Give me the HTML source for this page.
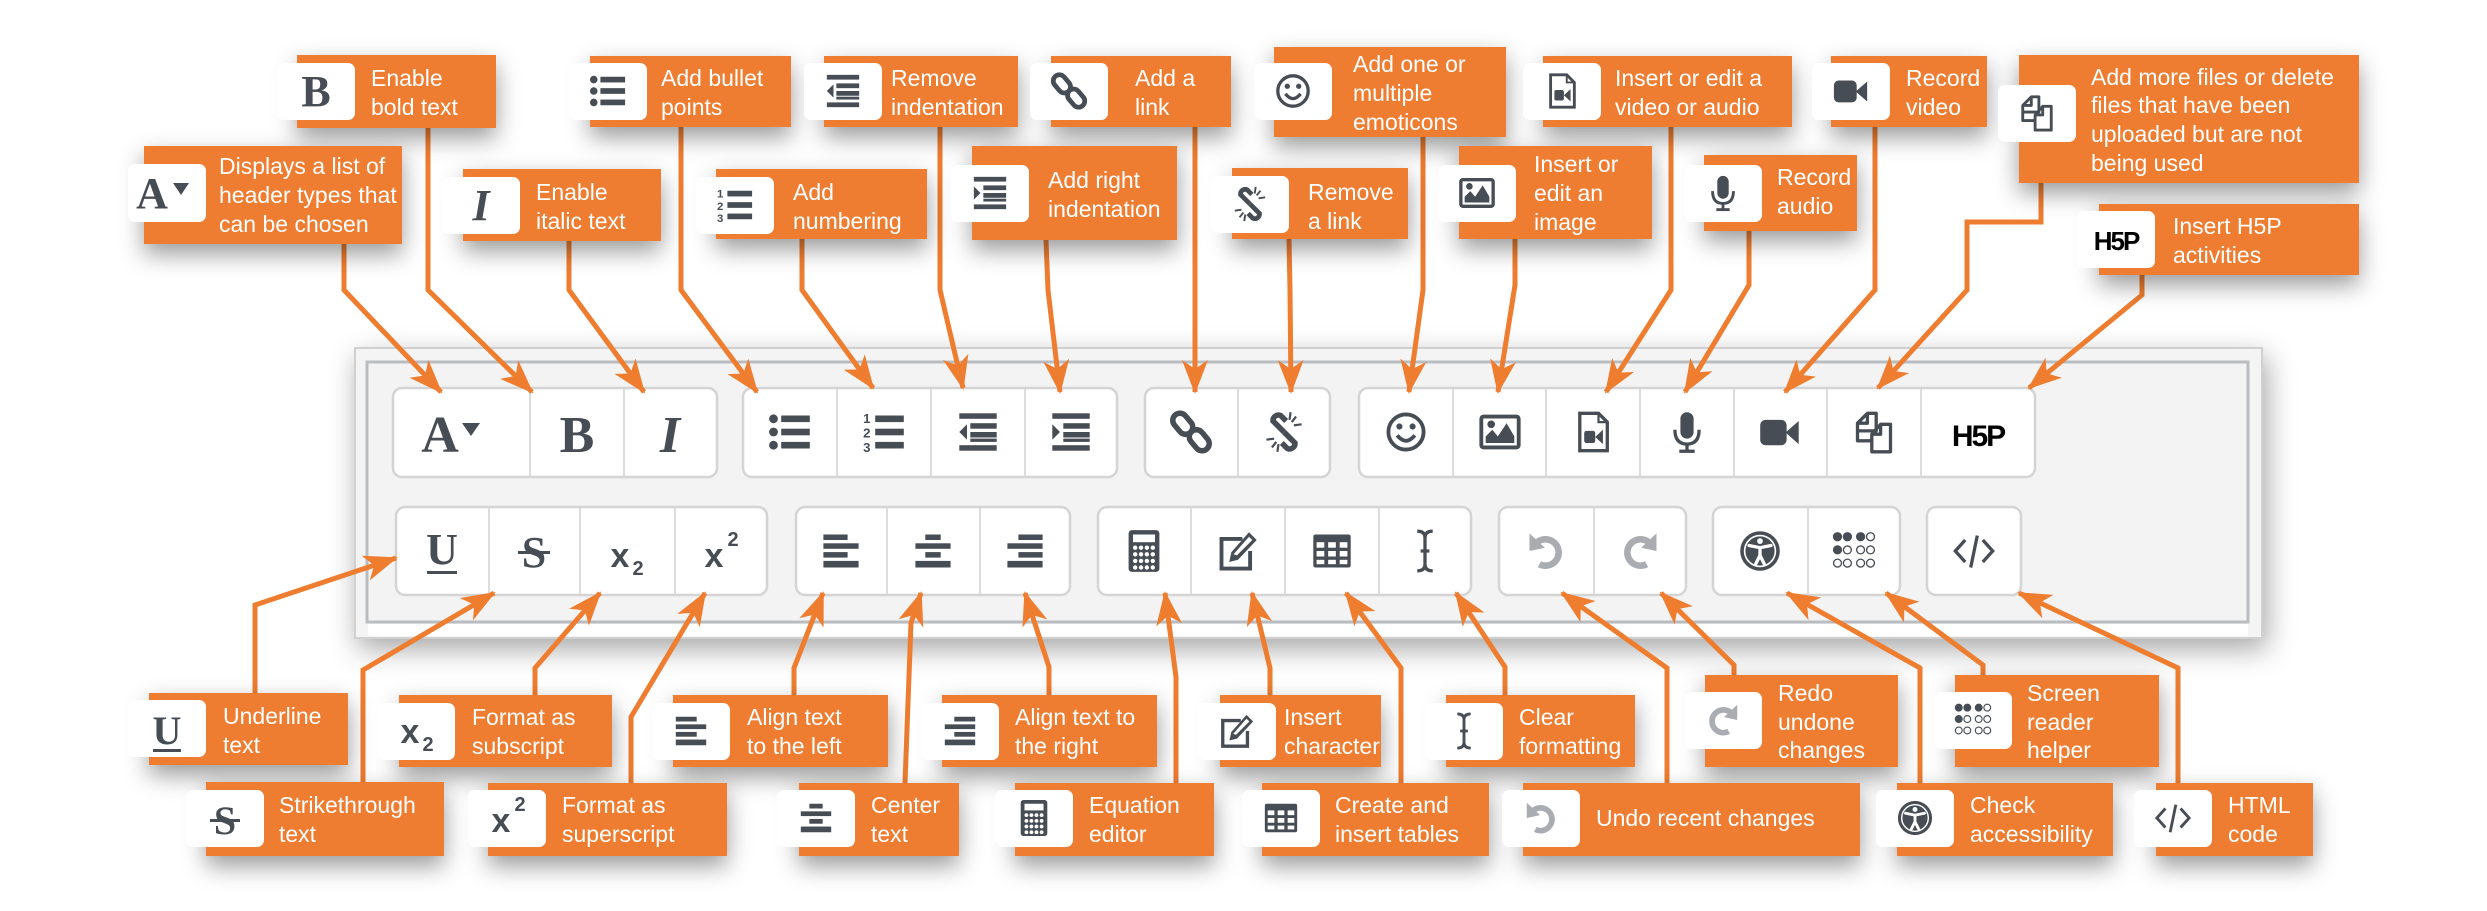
<!DOCTYPE html>
<html><head><meta charset="utf-8"><style>
html,body{margin:0;padding:0;background:#fff;}
svg{display:block;}
.t{font-family:"Liberation Sans",sans-serif;font-size:23px;fill:#fff;}
.ser{font-family:"Liberation Serif",serif;font-weight:bold;fill:#474d55;}
.sans{font-family:"Liberation Sans",sans-serif;font-weight:bold;fill:#474d55;}
.ln{fill:none;stroke:#EE7D30;stroke-width:5;marker-end:url(#ah);stroke-linejoin:miter;}
</style></head><body>
<svg width="2487" height="911" viewBox="0 0 2487 911" xmlns="http://www.w3.org/2000/svg">
<defs>
<filter id="sh" x="-30%" y="-30%" width="160%" height="180%"><feDropShadow dx="0" dy="10" stdDeviation="12" flood-color="#000" flood-opacity="0.4"/></filter>
<filter id="sh2" x="-10%" y="-10%" width="120%" height="130%"><feDropShadow dx="4" dy="10" stdDeviation="14" flood-color="#000" flood-opacity="0.35"/></filter>
<marker id="ah" markerUnits="userSpaceOnUse" markerWidth="34" markerHeight="26" refX="32" refY="13" orient="auto"><path d="M0,0 L34,13 L0,26 L9,13 Z" fill="#EE7D30"/></marker>
<symbol id="list" viewBox="0 0 40 40"><g fill="#474d55"><circle cx="5" cy="8" r="4"/><circle cx="5" cy="20" r="4"/><circle cx="5" cy="32" r="4"/><rect x="12" y="5" width="26" height="6"/><rect x="12" y="17" width="26" height="6"/><rect x="12" y="29" width="26" height="6"/></g></symbol>
<symbol id="num" viewBox="0 0 40 40"><g fill="#474d55"><text x="1" y="12" font-family="Liberation Sans" font-weight="bold" font-size="12">1</text><text x="1" y="25" font-family="Liberation Sans" font-weight="bold" font-size="12">2</text><text x="1" y="38" font-family="Liberation Sans" font-weight="bold" font-size="12">3</text><rect x="12" y="5" width="26" height="6"/><rect x="12" y="17" width="26" height="6"/><rect x="12" y="29" width="26" height="6"/></g></symbol>
<symbol id="outd" viewBox="0 0 40 40"><g fill="#474d55"><rect x="3" y="3" width="34" height="5"/><rect x="13" y="12" width="24" height="5"/><rect x="13" y="20" width="24" height="5"/><rect x="3" y="32" width="34" height="5"/><polygon points="3,20 10,13 10,27"/><rect x="13" y="26" width="24" height="3"/></g></symbol>
<symbol id="ind" viewBox="0 0 40 40"><g fill="#474d55"><rect x="3" y="3" width="34" height="5"/><rect x="13" y="12" width="24" height="5"/><rect x="13" y="20" width="24" height="5"/><rect x="3" y="32" width="34" height="5"/><polygon points="10,20 3,13 3,27"/><rect x="13" y="26" width="24" height="3"/></g></symbol>
<symbol id="link" viewBox="0 0 40 40"><g fill="none" stroke="#474d55" stroke-width="5"><rect x="6" y="2" width="13" height="21" rx="6.5" transform="rotate(-40 12.5 12.5)"/><rect x="21" y="17" width="13" height="21" rx="6.5" transform="rotate(-40 27.5 27.5)"/></g></symbol>
<symbol id="unlink" viewBox="0 0 40 40"><g fill="none" stroke="#474d55" stroke-width="5"><path d="M20,20 L10,10 A5,5 0 0 1 17,5 L22,10"/><path d="M20,20 L30,30 A5,5 0 0 1 23,35 L18,30"/></g><g stroke="#474d55" stroke-width="2"><line x1="26" y1="2" x2="25" y2="9"/><line x1="31" y1="6" x2="27" y2="11"/><line x1="36" y1="13" x2="29" y2="14"/><line x1="14" y1="38" x2="15" y2="31"/><line x1="9" y1="34" x2="13" y2="29"/><line x1="4" y1="27" x2="11" y2="26"/></g></symbol>
<symbol id="smile" viewBox="0 0 40 40"><circle cx="20" cy="20" r="16" fill="none" stroke="#474d55" stroke-width="3.5"/><circle cx="14" cy="15" r="2.8" fill="#474d55"/><circle cx="26" cy="15" r="2.8" fill="#474d55"/><path d="M12,23 Q20,33 28,23" fill="none" stroke="#474d55" stroke-width="3.5"/></symbol>
<symbol id="img" viewBox="0 0 40 40"><rect x="3" y="6" width="34" height="28" fill="none" stroke="#474d55" stroke-width="3.5" rx="2"/><polygon points="7,30 7,24 13,18 18,24 26,12 33,24 33,30" fill="#474d55"/><circle cx="12" cy="13" r="3.5" fill="#474d55"/></symbol>
<symbol id="vfile" viewBox="0 0 40 40"><path d="M8,3 H25 L33,11 V37 H8 Z" fill="none" stroke="#474d55" stroke-width="3"/><path d="M25,3 V11 H33" fill="none" stroke="#474d55" stroke-width="2"/><rect x="12" y="19" width="10" height="11" rx="2" fill="#474d55"/><polygon points="22,24.5 29,18 29,31" fill="#474d55"/></symbol>
<symbol id="mic" viewBox="0 0 40 40"><rect x="14" y="2" width="12" height="24" rx="6" fill="#474d55"/><path d="M9,18 Q9,31 20,31 Q31,31 31,18" fill="none" stroke="#474d55" stroke-width="3"/><line x1="20" y1="31" x2="20" y2="37" stroke="#474d55" stroke-width="3"/><line x1="13" y1="37.5" x2="27" y2="37.5" stroke="#474d55" stroke-width="3"/></symbol>
<symbol id="cam" viewBox="0 0 40 40"><rect x="2" y="9" width="24" height="23" rx="5" fill="#474d55"/><polygon points="25,20.5 37,10 37,31" fill="#474d55"/></symbol>
<symbol id="files" viewBox="0 0 40 40"><g fill="none" stroke="#474d55" stroke-width="3" stroke-linejoin="round"><path d="M14,3 H22 V19 H5 V12 Z M5,12 H14 V3"/><path d="M5,19 V28 H17"/><path d="M26,13 H35 V38 H18 V22 Z M18,22 H26 V13"/></g></symbol>
<symbol id="al" viewBox="0 0 40 40"><g fill="#474d55"><rect x="4" y="5" width="22" height="5"/><rect x="4" y="13" width="32" height="5"/><rect x="4" y="21" width="22" height="5"/><rect x="4" y="29" width="32" height="6"/></g></symbol>
<symbol id="ac" viewBox="0 0 40 40"><g fill="#474d55"><rect x="13" y="5" width="14" height="5"/><rect x="4" y="13" width="32" height="5"/><rect x="13" y="21" width="14" height="5"/><rect x="4" y="29" width="32" height="6"/></g></symbol>
<symbol id="ar" viewBox="0 0 40 40"><g fill="#474d55"><rect x="14" y="5" width="22" height="5"/><rect x="4" y="13" width="32" height="5"/><rect x="14" y="21" width="22" height="5"/><rect x="4" y="29" width="32" height="6"/></g></symbol>
<symbol id="calc" viewBox="0 0 40 40"><rect x="6" y="1" width="28" height="38" rx="3" fill="#474d55"/><rect x="10" y="5" width="20" height="7" fill="#fff"/><g fill="#fff"><circle cx="12" cy="17" r="2"/><circle cx="17.3" cy="17" r="2"/><circle cx="22.6" cy="17" r="2"/><circle cx="28" cy="17" r="2"/><circle cx="12" cy="23" r="2"/><circle cx="17.3" cy="23" r="2"/><circle cx="22.6" cy="23" r="2"/><circle cx="28" cy="23" r="2"/><circle cx="12" cy="29" r="2"/><circle cx="17.3" cy="29" r="2"/><circle cx="22.6" cy="29" r="2"/><circle cx="28" cy="29" r="2"/><circle cx="12" cy="35" r="2"/><circle cx="17.3" cy="35" r="2"/><circle cx="22.6" cy="35" r="2"/><circle cx="28" cy="35" r="2"/></g></symbol>
<symbol id="pen" viewBox="0 0 40 40"><path d="M24,9 H5 V36 H31 V20" fill="none" stroke="#474d55" stroke-width="3.5"/><polygon points="30,3 37,10 20,28 12,30 14,21" fill="#474d55"/><polygon points="30,7 33,10 19,24 16,23" fill="#fff"/></symbol>
<symbol id="table" viewBox="0 0 40 40"><rect x="3" y="5" width="34" height="30" rx="2" fill="#474d55"/><g fill="#fff"><rect x="6" y="12" width="7" height="5"/><rect x="16.5" y="12" width="7" height="5"/><rect x="27" y="12" width="7" height="5"/><rect x="6" y="20" width="7" height="5"/><rect x="16.5" y="20" width="7" height="5"/><rect x="27" y="20" width="7" height="5"/><rect x="6" y="28" width="7" height="4"/><rect x="16.5" y="28" width="7" height="4"/><rect x="27" y="28" width="7" height="4"/></g></symbol>
<symbol id="ibeam" viewBox="0 0 40 40"><path d="M13,2 Q20,2 20,8 V32 Q20,38 13,38 M27,2 Q20,2 20,8 M27,38 Q20,38 20,32 M16,20 H24" fill="none" stroke="#474d55" stroke-width="3"/></symbol>
<symbol id="undo" viewBox="0 0 40 40"><path d="M12,12 A12,12 0 1 1 14,32" fill="none" stroke="#a9adb1" stroke-width="6"/><polygon points="5,4 5,20 19,17" fill="#a9adb1"/></symbol>
<symbol id="redo" viewBox="0 0 40 40"><path d="M28,12 A12,12 0 1 0 26,32" fill="none" stroke="#a9adb1" stroke-width="6"/><polygon points="35,4 35,20 21,17" fill="#a9adb1"/></symbol>
<symbol id="acc" viewBox="0 0 40 40"><circle cx="20" cy="20" r="18" fill="#474d55"/><circle cx="20" cy="20" r="14" fill="none" stroke="#fff" stroke-width="1.5"/><circle cx="20" cy="11" r="2.6" fill="#fff"/><path d="M10,15 L20,17 L30,15 M20,17 V24 M20,24 L16,32 M20,24 L24,32" fill="none" stroke="#fff" stroke-width="3" stroke-linecap="round"/></symbol>
<symbol id="braille" viewBox="0 0 40 40"><g stroke="#474d55" stroke-width="1.2"><circle cx="5" cy="7" r="3.6" fill="#474d55"/><circle cx="14" cy="7" r="3.6" fill="#474d55"/><circle cx="26" cy="7" r="3.6" fill="#474d55"/><circle cx="35" cy="7" r="3.6" fill="#fff"/><circle cx="5" cy="19" r="3.6" fill="#474d55"/><circle cx="14" cy="19" r="3.6" fill="#fff"/><circle cx="26" cy="19" r="3.6" fill="#fff"/><circle cx="35" cy="19" r="3.6" fill="#fff"/><circle cx="5" cy="31" r="3.6" fill="#fff"/><circle cx="14" cy="31" r="3.6" fill="#fff"/><circle cx="26" cy="31" r="3.6" fill="#fff"/><circle cx="35" cy="31" r="3.6" fill="#fff"/></g></symbol>
<symbol id="code" viewBox="0 0 40 40"><path d="M12,10 L3,20 L12,30 M28,10 L37,20 L28,30 M23,6 L17,35" fill="none" stroke="#474d55" stroke-width="3"/></symbol>
</defs>

<rect x="355" y="348" width="1907" height="290" fill="#f4f4f4" stroke="#d0d0d0" stroke-width="2" filter="url(#sh2)"/>
<rect x="367" y="362" width="1881" height="260" fill="#f3f3f3" stroke="#b9bcc0" stroke-width="3"/>
<rect x="368" y="624" width="1880" height="12" fill="#fff"/>

<g fill="#fff" stroke="#d4d4d4" stroke-width="2.5">
<rect x="393" y="388" width="324" height="89" rx="9"/>
<rect x="743" y="388" width="374" height="89" rx="9"/>
<rect x="1145" y="388" width="185" height="89" rx="9"/>
<rect x="1359" y="388" width="676" height="89" rx="9"/>
<rect x="396" y="507" width="371" height="88" rx="9"/>
<rect x="796" y="507" width="274" height="88" rx="9"/>
<rect x="1098" y="507" width="373" height="88" rx="9"/>
<rect x="1499" y="507" width="187" height="88" rx="9"/>
<rect x="1713" y="507" width="187" height="88" rx="9"/>
<rect x="1927" y="507" width="94" height="88" rx="9"/>
</g>
<g stroke="#dcdcdc" stroke-width="2">
<line x1="530" y1="389" x2="530" y2="476"/><line x1="624" y1="389" x2="624" y2="476"/>
<line x1="837" y1="389" x2="837" y2="476"/><line x1="931" y1="389" x2="931" y2="476"/><line x1="1025" y1="389" x2="1025" y2="476"/>
<line x1="1238" y1="389" x2="1238" y2="476"/>
<line x1="1453" y1="389" x2="1453" y2="476"/><line x1="1546" y1="389" x2="1546" y2="476"/><line x1="1640" y1="389" x2="1640" y2="476"/><line x1="1734" y1="389" x2="1734" y2="476"/><line x1="1827" y1="389" x2="1827" y2="476"/><line x1="1921" y1="389" x2="1921" y2="476"/>
<line x1="489" y1="508" x2="489" y2="594"/><line x1="580" y1="508" x2="580" y2="594"/><line x1="675" y1="508" x2="675" y2="594"/>
<line x1="887" y1="508" x2="887" y2="594"/><line x1="980" y1="508" x2="980" y2="594"/>
<line x1="1191" y1="508" x2="1191" y2="594"/><line x1="1285" y1="508" x2="1285" y2="594"/><line x1="1379" y1="508" x2="1379" y2="594"/>
<line x1="1594" y1="508" x2="1594" y2="594"/><line x1="1808" y1="508" x2="1808" y2="594"/>
</g>

<text x="440" y="452" class="ser" font-size="52" text-anchor="middle">A</text><polygon points="462,423 480,423 471,436" fill="#474d55"/>
<text x="577" y="452" class="ser" font-size="52" text-anchor="middle">B</text>
<text x="670" y="452" class="ser" font-size="52" font-style="italic" text-anchor="middle">I</text>
<use href="#list" x="768" y="410" width="44" height="44"/>
<use href="#num" x="862" y="410" width="44" height="44"/>
<use href="#outd" x="956" y="410" width="44" height="44"/>
<use href="#ind" x="1049" y="410" width="44" height="44"/>
<use href="#link" x="1169" y="410" width="44" height="44"/>
<use href="#unlink" x="1262" y="410" width="44" height="44"/>
<use href="#smile" x="1384" y="410" width="44" height="44"/>
<use href="#img" x="1478" y="410" width="44" height="44"/>
<use href="#vfile" x="1571" y="410" width="44" height="44"/>
<use href="#mic" x="1665" y="410" width="44" height="44"/>
<use href="#cam" x="1758" y="410" width="44" height="44"/>
<use href="#files" x="1852" y="410" width="44" height="44"/>
<text x="1978" y="446" font-family="Liberation Sans" font-weight="bold" font-size="30" fill="#000" text-anchor="middle" letter-spacing="-2">H5P</text>

<text x="442" y="564" class="ser" font-size="44" text-anchor="middle">U</text><rect x="427" y="571" width="30" height="3" fill="#474d55"/>
<text x="534" y="567" class="ser" font-size="44" text-anchor="middle" font-weight="normal">S</text><rect x="518" y="551" width="32" height="3" fill="#474d55"/>
<text x="620" y="567" class="sans" font-size="34" text-anchor="middle">x</text><text x="638" y="575" class="sans" font-size="20" text-anchor="middle">2</text>
<text x="714" y="567" class="sans" font-size="34" text-anchor="middle">x</text><text x="733" y="546" class="sans" font-size="20" text-anchor="middle">2</text>
<use href="#al" x="819" y="529" width="44" height="44"/>
<use href="#ac" x="911" y="529" width="44" height="44"/>
<use href="#ar" x="1003" y="529" width="44" height="44"/>
<use href="#calc" x="1122" y="529" width="44" height="44"/>
<use href="#pen" x="1216" y="529" width="44" height="44"/>
<use href="#table" x="1310" y="529" width="44" height="44"/>
<use href="#ibeam" x="1403" y="529" width="44" height="44"/>
<use href="#undo" x="1524" y="529" width="44" height="44"/>
<use href="#redo" x="1618" y="529" width="44" height="44"/>
<use href="#acc" x="1738" y="529" width="44" height="44"/>
<use href="#braille" x="1832" y="529" width="44" height="44"/>
<use href="#code" x="1952" y="529" width="44" height="44"/>

<polyline class="ln" points="344,244 344,290 441,392"/>
<polyline class="ln" points="428,128 428,290 532,392"/>
<polyline class="ln" points="569,241 569,290 644,392"/>
<polyline class="ln" points="681,127 681,290 757,392"/>
<polyline class="ln" points="802,239 802,290 873,388"/>
<polyline class="ln" points="940,127 940,290 963,388"/>
<polyline class="ln" points="1046,240 1048,290 1060,392"/>
<polyline class="ln" points="1195,127 1195,392"/>
<polyline class="ln" points="1289,239 1290,290 1291,392"/>
<polyline class="ln" points="1423,137 1423,290 1409,392"/>
<polyline class="ln" points="1515,239 1515,285 1498,392"/>
<polyline class="ln" points="1671,127 1671,290 1606,392"/>
<polyline class="ln" points="1749,231 1749,285 1685,392"/>
<polyline class="ln" points="1875,127 1875,290 1785,392"/>
<polyline class="ln" points="2041,183 2041,222 1967,222 1967,290 1878,388"/>
<polyline class="ln" points="2142,275 2142,295 2029,388"/>
<polyline class="ln" points="255,693 255,605 396,558"/>
<polyline class="ln" points="363,782 363,670 494,593"/>
<polyline class="ln" points="535,695 535,668 600,593"/>
<polyline class="ln" points="631,783 631,717 705,593"/>
<polyline class="ln" points="794,695 794,668 823,593"/>
<polyline class="ln" points="905,783 911,623 921,593"/>
<polyline class="ln" points="1049,695 1049,667 1025,593"/>
<polyline class="ln" points="1176,783 1176,677 1165,593"/>
<polyline class="ln" points="1270,695 1270,668 1252,593"/>
<polyline class="ln" points="1401,783 1401,668 1346,593"/>
<polyline class="ln" points="1505,695 1505,667 1456,593"/>
<polyline class="ln" points="1667,783 1667,668 1562,593"/>
<polyline class="ln" points="1734,675 1734,665 1661,593"/>
<polyline class="ln" points="1920,783 1920,668 1787,593"/>
<polyline class="ln" points="1983,675 1983,665 1886,593"/>
<polyline class="ln" points="2178,783 2178,668 2019,593"/>

<g filter="url(#sh)" fill="#EE7D30">
<rect x="297" y="55" width="199" height="73"/>
<rect x="144" y="146" width="258" height="98"/>
<rect x="463" y="169" width="198" height="72"/>
<rect x="590" y="56" width="201" height="71"/>
<rect x="716" y="169" width="211" height="70"/>
<rect x="824" y="56" width="194" height="71"/>
<rect x="972" y="146" width="205" height="94"/>
<rect x="1051" y="56" width="180" height="71"/>
<rect x="1232" y="168" width="176" height="71"/>
<rect x="1274" y="47" width="232" height="90"/>
<rect x="1459" y="146" width="193" height="93"/>
<rect x="1543" y="56" width="249" height="71"/>
<rect x="1704" y="155" width="153" height="76"/>
<rect x="1831" y="56" width="156" height="71"/>
<rect x="2019" y="55" width="340" height="128"/>
<rect x="2099" y="204" width="260" height="71"/>
<rect x="149" y="693" width="199" height="72"/>
<rect x="206" y="782" width="238" height="74"/>
<rect x="399" y="695" width="213" height="72"/>
<rect x="488" y="783" width="239" height="73"/>
<rect x="673" y="695" width="215" height="72"/>
<rect x="799" y="783" width="160" height="73"/>
<rect x="942" y="695" width="215" height="72"/>
<rect x="1015" y="783" width="199" height="73"/>
<rect x="1220" y="695" width="161" height="72"/>
<rect x="1262" y="783" width="227" height="73"/>
<rect x="1446" y="695" width="189" height="72"/>
<rect x="1523" y="783" width="337" height="73"/>
<rect x="1705" y="675" width="193" height="92"/>
<rect x="1955" y="675" width="204" height="92"/>
<rect x="1897" y="783" width="216" height="73"/>
<rect x="2156" y="783" width="157" height="73"/>
</g>

<g fill="#fff">
<rect x="277" y="63" width="78" height="57" rx="7"/>
<rect x="128" y="164" width="78" height="58" rx="7"/>
<rect x="442" y="177" width="78" height="57" rx="7"/>
<rect x="569" y="63" width="78" height="57" rx="7"/>
<rect x="696" y="177" width="78" height="57" rx="7"/>
<rect x="804" y="63" width="78" height="57" rx="7"/>
<rect x="951" y="165" width="78" height="57" rx="7"/>
<rect x="1030" y="63" width="78" height="57" rx="7"/>
<rect x="1211" y="176" width="78" height="57" rx="7"/>
<rect x="1254" y="63" width="78" height="57" rx="7"/>
<rect x="1438" y="165" width="78" height="57" rx="7"/>
<rect x="1523" y="63" width="78" height="57" rx="7"/>
<rect x="1684" y="165" width="78" height="57" rx="7"/>
<rect x="1812" y="63" width="78" height="57" rx="7"/>
<rect x="1998" y="85" width="78" height="57" rx="7"/>
<rect x="2077" y="211" width="78" height="57" rx="7"/>
<rect x="128" y="700" width="78" height="57" rx="7"/>
<rect x="186" y="790" width="78" height="57" rx="7"/>
<rect x="377" y="703" width="78" height="57" rx="7"/>
<rect x="468" y="790" width="78" height="57" rx="7"/>
<rect x="652" y="703" width="78" height="57" rx="7"/>
<rect x="777" y="790" width="78" height="57" rx="7"/>
<rect x="921" y="703" width="78" height="57" rx="7"/>
<rect x="995" y="790" width="78" height="57" rx="7"/>
<rect x="1198" y="703" width="78" height="57" rx="7"/>
<rect x="1242" y="790" width="78" height="57" rx="7"/>
<rect x="1425" y="703" width="78" height="57" rx="7"/>
<rect x="1502" y="790" width="78" height="57" rx="7"/>
<rect x="1684" y="692" width="78" height="57" rx="7"/>
<rect x="1934" y="692" width="78" height="57" rx="7"/>
<rect x="1876" y="790" width="78" height="57" rx="7"/>
<rect x="2134" y="790" width="78" height="57" rx="7"/>
</g>

<text x="316" y="106" class="ser" font-size="44" text-anchor="middle">B</text>
<text x="152" y="208" class="ser" font-size="44" text-anchor="middle">A</text><polygon points="173,183 189,183 181,195" fill="#474d55"/>
<text x="481" y="220" class="ser" font-size="44" font-style="italic" text-anchor="middle">I</text>
<use href="#list" x="589" y="72" width="38" height="38"/>
<use href="#num" x="716" y="186" width="38" height="38"/>
<use href="#outd" x="824" y="72" width="38" height="38"/>
<use href="#ind" x="971" y="174" width="38" height="38"/>
<use href="#link" x="1050" y="72" width="38" height="38"/>
<use href="#unlink" x="1231" y="185" width="38" height="38"/>
<use href="#smile" x="1274" y="72" width="38" height="38"/>
<use href="#img" x="1458" y="174" width="38" height="38"/>
<use href="#vfile" x="1543" y="72" width="38" height="38"/>
<use href="#mic" x="1704" y="174" width="38" height="38"/>
<use href="#cam" x="1832" y="72" width="38" height="38"/>
<use href="#files" x="2018" y="94" width="38" height="38"/>
<text x="2116" y="250" font-family="Liberation Sans" font-weight="bold" font-size="26" fill="#000" text-anchor="middle" letter-spacing="-2">H5P</text>
<text x="167" y="744" class="ser" font-size="40" text-anchor="middle">U</text><rect x="153" y="749" width="28" height="3" fill="#474d55"/>
<text x="225" y="834" class="ser" font-size="40" text-anchor="middle" font-weight="normal">S</text><rect x="210" y="819" width="30" height="3" fill="#474d55"/>
<text x="410" y="743" class="sans" font-size="34" text-anchor="middle">x</text><text x="428" y="751" class="sans" font-size="20" text-anchor="middle">2</text>
<text x="501" y="832" class="sans" font-size="34" text-anchor="middle">x</text><text x="520" y="811" class="sans" font-size="20" text-anchor="middle">2</text>
<use href="#al" x="672" y="712" width="38" height="38"/>
<use href="#ac" x="797" y="799" width="38" height="38"/>
<use href="#ar" x="941" y="712" width="38" height="38"/>
<use href="#calc" x="1015" y="799" width="38" height="38"/>
<use href="#pen" x="1218" y="712" width="38" height="38"/>
<use href="#table" x="1262" y="799" width="38" height="38"/>
<use href="#ibeam" x="1445" y="712" width="38" height="38"/>
<use href="#undo" x="1522" y="799" width="38" height="38"/>
<use href="#redo" x="1704" y="701" width="38" height="38"/>
<use href="#braille" x="1954" y="701" width="38" height="38"/>
<use href="#acc" x="1896" y="799" width="38" height="38"/>
<use href="#code" x="2154" y="799" width="38" height="38"/>

<text class="t"><tspan x="371" y="86">Enable</tspan><tspan x="371" y="115">bold text</tspan></text>
<text class="t"><tspan x="219" y="174">Displays a list of</tspan><tspan x="219" y="203">header types that</tspan><tspan x="219" y="232">can be chosen</tspan></text>
<text class="t"><tspan x="536" y="200">Enable</tspan><tspan x="536" y="229">italic text</tspan></text>
<text class="t"><tspan x="661" y="86">Add bullet</tspan><tspan x="661" y="115">points</tspan></text>
<text class="t"><tspan x="793" y="200">Add</tspan><tspan x="793" y="229">numbering</tspan></text>
<text class="t"><tspan x="891" y="86">Remove</tspan><tspan x="891" y="115">indentation</tspan></text>
<text class="t"><tspan x="1048" y="188">Add right</tspan><tspan x="1048" y="217">indentation</tspan></text>
<text class="t"><tspan x="1135" y="86">Add a</tspan><tspan x="1135" y="115">link</tspan></text>
<text class="t"><tspan x="1308" y="200">Remove</tspan><tspan x="1308" y="229">a link</tspan></text>
<text class="t"><tspan x="1353" y="72">Add one or</tspan><tspan x="1353" y="101">multiple</tspan><tspan x="1353" y="130">emoticons</tspan></text>
<text class="t"><tspan x="1534" y="172">Insert or</tspan><tspan x="1534" y="201">edit an</tspan><tspan x="1534" y="230">image</tspan></text>
<text class="t"><tspan x="1615" y="86">Insert or edit a</tspan><tspan x="1615" y="115">video or audio</tspan></text>
<text class="t"><tspan x="1777" y="185">Record</tspan><tspan x="1777" y="214">audio</tspan></text>
<text class="t"><tspan x="1906" y="86">Record</tspan><tspan x="1906" y="115">video</tspan></text>
<text class="t"><tspan x="2091" y="85">Add more files or delete</tspan><tspan x="2091" y="113">files that have been</tspan><tspan x="2091" y="142">uploaded but are not</tspan><tspan x="2091" y="171">being used</tspan></text>
<text class="t"><tspan x="2173" y="234">Insert H5P</tspan><tspan x="2173" y="263">activities</tspan></text>

<text class="t"><tspan x="223" y="724">Underline</tspan><tspan x="223" y="753">text</tspan></text>
<text class="t"><tspan x="279" y="813">Strikethrough</tspan><tspan x="279" y="842">text</tspan></text>
<text class="t"><tspan x="472" y="725">Format as</tspan><tspan x="472" y="754">subscript</tspan></text>
<text class="t"><tspan x="562" y="813">Format as</tspan><tspan x="562" y="842">superscript</tspan></text>
<text class="t"><tspan x="747" y="725">Align text</tspan><tspan x="747" y="754">to the left</tspan></text>
<text class="t"><tspan x="871" y="813">Center</tspan><tspan x="871" y="842">text</tspan></text>
<text class="t"><tspan x="1015" y="725">Align text to</tspan><tspan x="1015" y="754">the right</tspan></text>
<text class="t"><tspan x="1089" y="813">Equation</tspan><tspan x="1089" y="842">editor</tspan></text>
<text class="t"><tspan x="1284" y="725">Insert</tspan><tspan x="1284" y="754">character</tspan></text>
<text class="t"><tspan x="1335" y="813">Create and</tspan><tspan x="1335" y="842">insert tables</tspan></text>
<text class="t"><tspan x="1519" y="725">Clear</tspan><tspan x="1519" y="754">formatting</tspan></text>
<text class="t"><tspan x="1596" y="826">Undo recent changes</tspan></text>
<text class="t"><tspan x="1778" y="701">Redo</tspan><tspan x="1778" y="730">undone</tspan><tspan x="1778" y="758">changes</tspan></text>
<text class="t"><tspan x="2027" y="701">Screen</tspan><tspan x="2027" y="730">reader</tspan><tspan x="2027" y="758">helper</tspan></text>
<text class="t"><tspan x="1970" y="813">Check</tspan><tspan x="1970" y="842">accessibility</tspan></text>
<text class="t"><tspan x="2228" y="813">HTML</tspan><tspan x="2228" y="842">code</tspan></text>
</svg>
</body></html>
